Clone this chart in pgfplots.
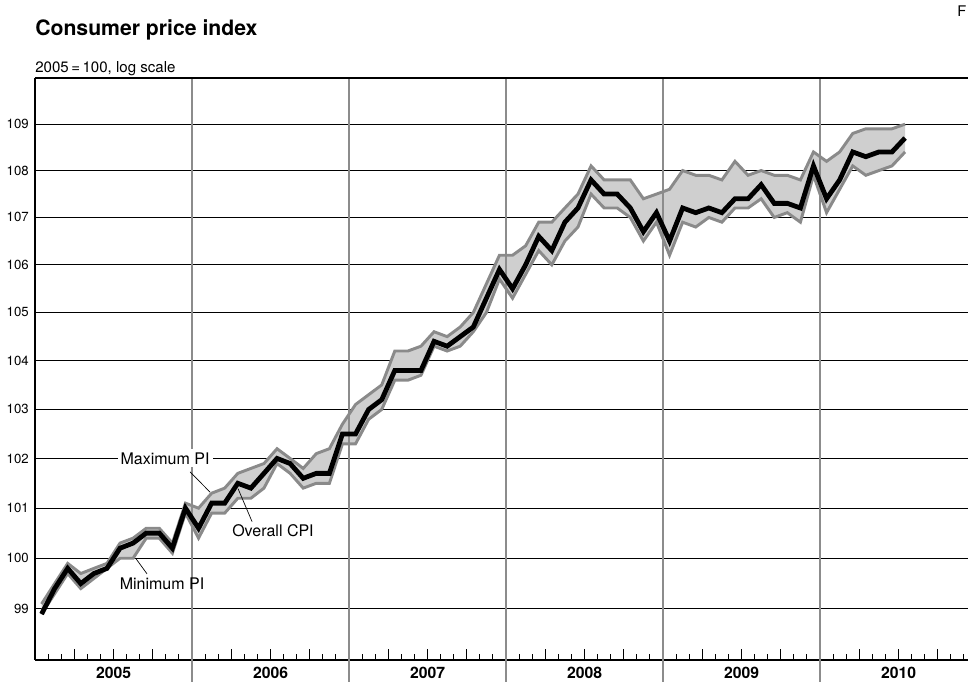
\documentclass[border=0pt]{standalone}
\usepackage{pgfplots}
\pgfplotsset{compat=1.18}
\usepackage{pgfplotstable}
\usepackage{fontspec}
\setmainfont{TeX Gyre Heros}
\definecolor{bandfill}{HTML}{CFCFCF}
\definecolor{bandline}{HTML}{8A8A8A}
\definecolor{yearline}{HTML}{8C8C8C}

\pgfplotstableread{
x cpi max min
0.5 98.9 99.1 98.9
1.5 99.4 99.5 99.3
2.5 99.8 99.9 99.7
3.5 99.5 99.7 99.4
4.5 99.7 99.8 99.6
5.5 99.8 99.9 99.8
6.5 100.2 100.3 100.0
7.5 100.3 100.4 100.0
8.5 100.5 100.6 100.4
9.5 100.5 100.6 100.4
10.5 100.2 100.3 100.1
11.5 101.0 101.1 100.9
12.5 100.6 101.0 100.4
13.5 101.1 101.3 100.9
14.5 101.1 101.4 100.9
15.5 101.5 101.7 101.2
16.5 101.4 101.8 101.2
17.5 101.7 101.9 101.4
18.5 102.0 102.2 101.9
19.5 101.9 102.0 101.7
20.5 101.6 101.8 101.4
21.5 101.7 102.1 101.5
22.5 101.7 102.2 101.5
23.5 102.5 102.7 102.3
24.5 102.5 103.1 102.3
25.5 103.0 103.3 102.8
26.5 103.2 103.5 103.0
27.5 103.8 104.2 103.6
28.5 103.8 104.2 103.6
29.5 103.8 104.3 103.7
30.5 104.4 104.6 104.3
31.5 104.3 104.5 104.2
32.5 104.5 104.7 104.3
33.5 104.7 105.0 104.6
34.5 105.3 105.6 105.0
35.5 105.9 106.2 105.7
36.5 105.5 106.2 105.3
37.5 106.0 106.4 105.8
38.5 106.6 106.9 106.3
39.5 106.3 106.9 106.0
40.5 106.9 107.2 106.5
41.5 107.2 107.5 106.8
42.5 107.8 108.1 107.5
43.5 107.5 107.8 107.2
44.5 107.5 107.8 107.2
45.5 107.2 107.8 107.0
46.5 106.7 107.4 106.5
47.5 107.1 107.5 106.9
48.5 106.5 107.6 106.2
49.5 107.2 108.0 106.9
50.5 107.1 107.9 106.8
51.5 107.2 107.9 107.0
52.5 107.1 107.8 106.9
53.5 107.4 108.2 107.2
54.5 107.4 107.9 107.2
55.5 107.7 108.0 107.4
56.5 107.3 107.9 107.0
57.5 107.3 107.9 107.1
58.5 107.2 107.8 106.9
59.5 108.1 108.4 107.9
60.5 107.4 108.2 107.1
61.5 107.8 108.4 107.6
62.5 108.4 108.8 108.1
63.5 108.3 108.9 107.9
64.5 108.4 108.9 108.0
65.5 108.4 108.9 108.1
66.5 108.7 109.0 108.4
}\cpidata

% band outline: maximum forward, then minimum backward
\pgfplotstableread{
x v
0.5 99.1
1.5 99.5
2.5 99.9
3.5 99.7
4.5 99.8
5.5 99.9
6.5 100.3
7.5 100.4
8.5 100.6
9.5 100.6
10.5 100.3
11.5 101.1
12.5 101.0
13.5 101.3
14.5 101.4
15.5 101.7
16.5 101.8
17.5 101.9
18.5 102.2
19.5 102.0
20.5 101.8
21.5 102.1
22.5 102.2
23.5 102.7
24.5 103.1
25.5 103.3
26.5 103.5
27.5 104.2
28.5 104.2
29.5 104.3
30.5 104.6
31.5 104.5
32.5 104.7
33.5 105.0
34.5 105.6
35.5 106.2
36.5 106.2
37.5 106.4
38.5 106.9
39.5 106.9
40.5 107.2
41.5 107.5
42.5 108.1
43.5 107.8
44.5 107.8
45.5 107.8
46.5 107.4
47.5 107.5
48.5 107.6
49.5 108.0
50.5 107.9
51.5 107.9
52.5 107.8
53.5 108.2
54.5 107.9
55.5 108.0
56.5 107.9
57.5 107.9
58.5 107.8
59.5 108.4
60.5 108.2
61.5 108.4
62.5 108.8
63.5 108.9
64.5 108.9
65.5 108.9
66.5 109.0
66.5 108.4
65.5 108.1
64.5 108.0
63.5 107.9
62.5 108.1
61.5 107.6
60.5 107.1
59.5 107.9
58.5 106.9
57.5 107.1
56.5 107.0
55.5 107.4
54.5 107.2
53.5 107.2
52.5 106.9
51.5 107.0
50.5 106.8
49.5 106.9
48.5 106.2
47.5 106.9
46.5 106.5
45.5 107.0
44.5 107.2
43.5 107.2
42.5 107.5
41.5 106.8
40.5 106.5
39.5 106.0
38.5 106.3
37.5 105.8
36.5 105.3
35.5 105.7
34.5 105.0
33.5 104.6
32.5 104.3
31.5 104.2
30.5 104.3
29.5 103.7
28.5 103.6
27.5 103.6
26.5 103.0
25.5 102.8
24.5 102.3
23.5 102.3
22.5 101.5
21.5 101.5
20.5 101.4
19.5 101.7
18.5 101.9
17.5 101.4
16.5 101.2
15.5 101.2
14.5 100.9
13.5 100.9
12.5 100.4
11.5 100.9
10.5 100.1
9.5 100.4
8.5 100.4
7.5 100.0
6.5 100.0
5.5 99.8
4.5 99.6
3.5 99.4
2.5 99.7
1.5 99.3
0.5 98.9
}\banddata

\begin{document}
\begin{tikzpicture}
\path[use as bounding box] (0,0) rectangle (726pt,511.5pt);
\clip (0,0) rectangle (726pt,511.5pt);
\node[anchor=base west, inner sep=0pt, font=\bfseries\fontsize{15.9}{18}\selectfont] at (26.25pt,484.5pt) {Consumer price index};
\node[anchor=base west, inner sep=0pt, font=\fontsize{11.3}{13}\selectfont] at (26.25pt,456.75pt) {2005\,=\,100, log scale};
\node[anchor=base east, inner sep=0pt, font=\fontsize{11}{13}\selectfont] at (725pt,499pt) {F};
% log scale drawn as y = ln(value) - ln(98)
\begin{axis}[
  at={(26.25pt,16.5pt)}, anchor=south west,
  scale only axis, width=699.75pt, height=436.5pt,
  xmin=0, xmax=71.31, ymin=0, ymax=0.115513,
  axis lines*=left, axis line style={-, black, line width=1.1pt},
  xtick={3,6,9,15,18,21,27,30,33,39,42,45,51,54,57,63,66,69},
  minor xtick={1,2,4,5,7,8,10,11,13,14,16,17,19,20,22,23,25,26,28,29,31,32,34,35,37,38,40,41,43,44,46,47,49,50,52,53,55,56,58,59,61,62,64,65,67,68,70,71},
  xticklabels={},
  tick align=inside, major tick length=8.25pt, minor tick length=4.5pt,
  xtick style={black, line width=0.7pt},
  minor tick style={black, line width=0.7pt},
  ytick={0.010153,0.020203,0.030154,0.040006,0.049762,0.059424,0.068993,0.078472,0.087862,0.097164,0.106381},
  yticklabels={99,100,101,102,103,104,105,106,107,108,109},
  ytick style={draw=none},
  ymajorgrids, grid style={black, line width=0.7pt},
  yticklabel style={font=\fontsize{9.9}{11}\selectfont, inner sep=0pt, xshift=-4.5pt},
  clip=false,
]
\addplot[fill=bandfill, draw=none] table[x=x,y expr={ln(\thisrow{v})-4.584967}]{\banddata};
\draw[yearline, line width=1.1pt] (axis cs:12,0.115513) -- ([yshift=-16.5pt]axis cs:12,0);
\draw[yearline, line width=1.1pt] (axis cs:24,0.115513) -- ([yshift=-16.5pt]axis cs:24,0);
\draw[yearline, line width=1.1pt] (axis cs:36,0.115513) -- ([yshift=-16.5pt]axis cs:36,0);
\draw[yearline, line width=1.1pt] (axis cs:48,0.115513) -- ([yshift=-16.5pt]axis cs:48,0);
\draw[yearline, line width=1.1pt] (axis cs:60,0.115513) -- ([yshift=-16.5pt]axis cs:60,0);
\addplot[bandline, line width=2.2pt] table[x=x,y expr={ln(\thisrow{max})-4.584967}]{\cpidata};
\addplot[bandline, line width=2.2pt] table[x=x,y expr={ln(\thisrow{min})-4.584967}]{\cpidata};
\addplot[black, line width=3.6pt] table[x=x,y expr={ln(\thisrow{cpi})-4.584967}]{\cpidata};
\draw[black, line width=1.1pt] (axis cs:0,0.115513) -- (axis cs:71.31,0.115513);
\node[fill=white, inner sep=2.25pt, font=\fontsize{12}{14}\selectfont] at (axis cs:9.94,0.040006) {Maximum PI};
\draw[black, line width=0.5pt] (axis cs:11.85,0.03735) -- (axis cs:13.38,0.03331);
\node[inner sep=1pt, font=\fontsize{12}{14}\selectfont] at (axis cs:18.19,0.02559) {Overall CPI};
\draw[black, line width=0.5pt] (axis cs:15.52,0.03400) -- (axis cs:16.59,0.02747);
\node[inner sep=1pt, font=\fontsize{12}{14}\selectfont] at (axis cs:9.71,0.01509) {Minimum PI};
\draw[black, line width=0.5pt] (axis cs:7.72,0.02010) -- (axis cs:8.56,0.01710);
\node[anchor=base, font=\bfseries\fontsize{11.8}{13}\selectfont] at ([yshift=-13.5pt]axis cs:6,0) {2005};
\node[anchor=base, font=\bfseries\fontsize{11.8}{13}\selectfont] at ([yshift=-13.5pt]axis cs:18,0) {2006};
\node[anchor=base, font=\bfseries\fontsize{11.8}{13}\selectfont] at ([yshift=-13.5pt]axis cs:30,0) {2007};
\node[anchor=base, font=\bfseries\fontsize{11.8}{13}\selectfont] at ([yshift=-13.5pt]axis cs:42,0) {2008};
\node[anchor=base, font=\bfseries\fontsize{11.8}{13}\selectfont] at ([yshift=-13.5pt]axis cs:54,0) {2009};
\node[anchor=base, font=\bfseries\fontsize{11.8}{13}\selectfont] at ([yshift=-13.5pt]axis cs:66,0) {2010};
\end{axis}
\end{tikzpicture}
\end{document}
